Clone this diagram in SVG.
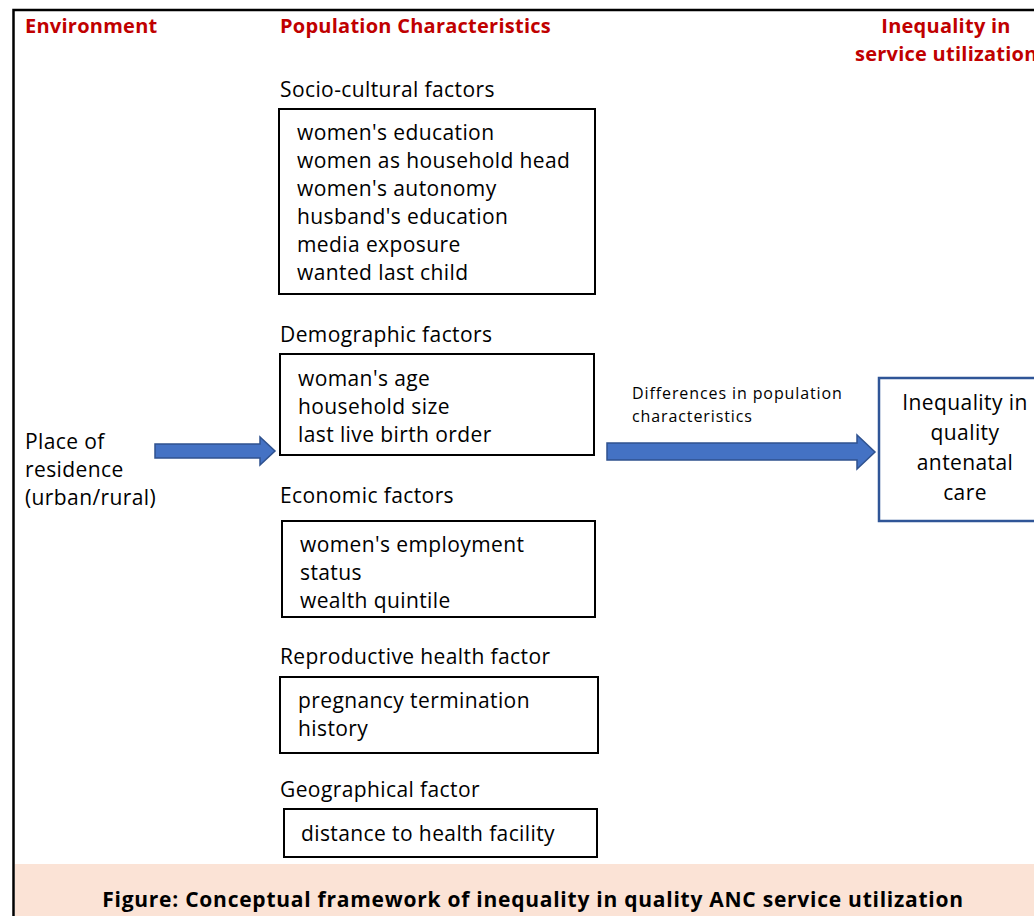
<svg xmlns="http://www.w3.org/2000/svg" width="1034" height="916" viewBox="0 0 1034 916">
  <style>
    text { font-family: "Open Sans", "DejaVu Sans", sans-serif; fill: #000; }
    .hdr { font-weight: bold; font-size: 20px; letter-spacing: 0.25px; fill: #C00000; }
    .lbl { font-size: 21px; letter-spacing: 0.4px; }
    .item { font-size: 21px; letter-spacing: 0.4px; }
    .small { font-size: 16px; letter-spacing: 0.9px; }
    .box { fill: #fff; stroke: #000; stroke-width: 2; }
    .outcome { fill: #fff; stroke: #2F5597; stroke-width: 2.5; }
    .arrow { fill: #4472C4; stroke: #2F528F; stroke-width: 1.5; }
    .cap { font-weight: bold; font-size: 21px; letter-spacing: 0.75px; }
  </style>

  <rect width="1034" height="916" fill="#fff"/>

  <!-- frame -->
  <path d="M13.5 916 V10 H1034" fill="none" stroke="#000" stroke-width="2.5"/>
  <rect x="15" y="864" width="1019" height="52" fill="#FBE3D6"/>

  <!-- column headers -->
  <g id="headers">
    <text class="hdr" x="25" y="33">Environment</text>
    <text class="hdr" x="280" y="33">Population Characteristics</text>
    <text class="hdr" x="946" y="33" text-anchor="middle">Inequality in</text>
    <text class="hdr" x="855" y="61">service utilization</text>
  </g>

  <g id="environment">
    <text class="lbl" x="25" y="449">Place of</text>
    <text class="lbl" x="25" y="477">residence</text>
    <text class="lbl" x="25" y="505">(urban/rural)</text>
  </g>

  <g id="socio-cultural">
    <text class="lbl" x="280" y="97">Socio-cultural factors</text>
    <rect class="box" x="279" y="109" width="316" height="185"/>
    <text class="item" x="297" y="140">women's education</text>
    <text class="item" x="297" y="168">women as household head</text>
    <text class="item" x="297" y="196">women's autonomy</text>
    <text class="item" x="297" y="224">husband's education</text>
    <text class="item" x="297" y="252">media exposure</text>
    <text class="item" x="297" y="280">wanted last child</text>
  </g>

  <g id="demographic">
    <text class="lbl" x="280" y="342">Demographic factors</text>
    <rect class="box" x="280" y="354" width="314" height="101"/>
    <text class="item" x="298" y="386">woman's age</text>
    <text class="item" x="298" y="414">household size</text>
    <text class="item" x="298" y="442">last live birth order</text>
  </g>

  <g id="economic">
    <text class="lbl" x="280" y="503">Economic factors</text>
    <rect class="box" x="282" y="521" width="313" height="96"/>
    <text class="item" x="300" y="552">women's employment</text>
    <text class="item" x="300" y="580">status</text>
    <text class="item" x="300" y="608">wealth quintile</text>
  </g>

  <g id="reproductive">
    <text class="lbl" x="280" y="664">Reproductive health factor</text>
    <rect class="box" x="280" y="677" width="318" height="76"/>
    <text class="item" x="298" y="708">pregnancy termination</text>
    <text class="item" x="298" y="736">history</text>
  </g>

  <g id="geographical">
    <text class="lbl" x="280" y="797">Geographical factor</text>
    <rect class="box" x="284" y="809" width="313" height="48"/>
    <text class="item" x="301" y="841">distance to health facility</text>
  </g>

  <g id="outcome">
    <rect class="outcome" x="879" y="378" width="170" height="143"/>
    <text class="item" x="965" y="410" text-anchor="middle">Inequality in</text>
    <text class="item" x="965" y="440" text-anchor="middle">quality</text>
    <text class="item" x="965" y="470" text-anchor="middle">antenatal</text>
    <text class="item" x="965" y="500" text-anchor="middle">care</text>
  </g>

  <g id="connectors">
    <path class="arrow" d="M155 444 H260 V437 L275 451 L260 465 V458 H155 Z"/>
    <path class="arrow" d="M607 443 H857 V435 L875 452 L857 469 V460 H607 Z"/>
    <text class="small" x="632" y="399">Differences in population</text>
    <text class="small" x="632" y="422">characteristics</text>
  </g>

  <text class="cap" x="533" y="907" text-anchor="middle">Figure: Conceptual framework of inequality in quality ANC service utilization</text>
</svg>
